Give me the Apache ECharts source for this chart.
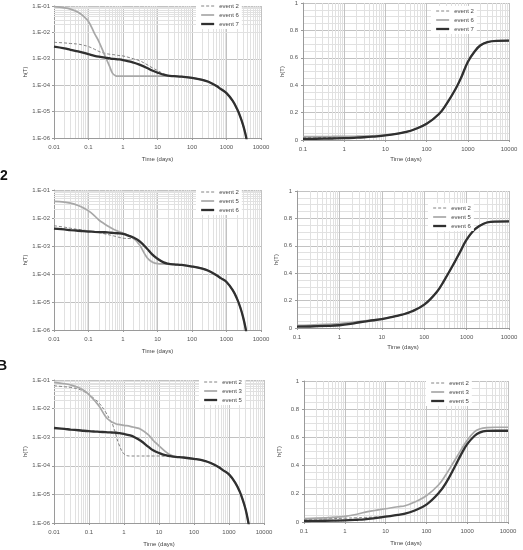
<!DOCTYPE html>
<html>
<head>
<meta charset="utf-8">
<script src="https://cdn.jsdelivr.net/npm/echarts@6/dist/echarts.min.js"></script>
<style>
  html, body { margin: 0; padding: 0; background: #fff; }
  #main { width: 523px; height: 550px; }
</style>
</head>
<body>
<div id="main"></div>
<script>
// time samples (days)
var timeLeft = [0.01, 0.02, 0.03, 0.05, 0.07, 0.1, 0.15, 0.2, 0.3, 0.4, 0.5, 0.6, 0.7, 1, 1.5, 2, 3, 5, 7, 10, 15, 20,
  30, 50, 100, 200, 300, 500, 700, 1000, 1500, 2000, 2500, 3000, 3500, 4000];
var timeRight = [0.1, 0.2, 0.5, 1, 2, 3, 5, 10, 20, 30, 50, 100, 200, 300, 500, 700, 1000, 1500, 2000, 3000, 5000, 10000];

// row 1, left: h(T) log scale
var tailA = [2.2e-4, 2.1e-4, 1.9e-4, 1.6e-4, 1.35e-4, 9.5e-5, 7e-5, 5e-5, 2.6e-5, 1.3e-5, 6.5e-6, 3.2e-6, 1.5e-6, 6.5e-7];
var a_ev2 = [4.2e-3, 4.0e-3, 3.8e-3, 3.6e-3, 3.3e-3, 2.9e-3, 2.3e-3, 1.9e-3, 1.6e-3, 1.5e-3, 1.45e-3, 1.4e-3, 1.35e-3,
  1.28e-3, 1.12e-3, 1.0e-3, 8.5e-4, 6e-4, 4.6e-4, 3.6e-4, 2.7e-4, 2.35e-4].concat(tailA);
var a_ev6 = [0.094, 0.085, 0.076, 0.058, 0.042, 0.026, 9e-3, 4.5e-3, 1.3e-3, 5.5e-4, 2.8e-4, 2.3e-4, 2.2e-4,
  2.2e-4, 2.2e-4, 2.2e-4, 2.2e-4, 2.2e-4, 2.2e-4, 2.2e-4, 2.2e-4, 2.2e-4].concat(tailA);
var a_ev7 = [2.9e-3, 2.5e-3, 2.2e-3, 1.9e-3, 1.7e-3, 1.5e-3, 1.3e-3, 1.2e-3, 1.1e-3, 1.05e-3, 1.0e-3, 9.8e-4, 9.6e-4,
  9e-4, 8e-4, 7.2e-4, 6e-4, 4.5e-4, 3.6e-4, 3.0e-4, 2.5e-4, 2.3e-4].concat(tailA);

// row 1, right: H(T)
var b_ev2 = [0.018, 0.018, 0.019, 0.02, 0.022, 0.024, 0.027, 0.033, 0.046, 0.057, 0.077, 0.118, 0.19, 0.26, 0.37, 0.46, 0.57, 0.65, 0.69, 0.715, 0.724, 0.725];
var b_ev6 = [0.025, 0.025, 0.026, 0.027, 0.028, 0.029, 0.031, 0.035, 0.047, 0.058, 0.078, 0.119, 0.19, 0.26, 0.37, 0.46, 0.57, 0.65, 0.69, 0.715, 0.724, 0.725];
var b_ev7 = [0.008, 0.009, 0.011, 0.013, 0.017, 0.02, 0.025, 0.033, 0.046, 0.057, 0.077, 0.118, 0.19, 0.26, 0.37, 0.46, 0.57, 0.65, 0.69, 0.715, 0.724, 0.725];

// row 2, left
var tailC = [2.2e-4, 2.1e-4, 1.85e-4, 1.55e-4, 1.3e-4, 9.2e-5, 7e-5, 5.2e-5, 2.7e-5, 1.35e-5, 6.5e-6, 3e-6, 1.3e-6, 5e-7];
var c_ev2 = [5.3e-3, 4.7e-3, 4.3e-3, 3.9e-3, 3.7e-3, 3.5e-3, 3.2e-3, 3.0e-3, 2.7e-3, 2.5e-3, 2.35e-3, 2.2e-3, 2.1e-3,
  1.9e-3, 1.85e-3, 1.8e-3, 1.4e-3, 7.8e-4, 4.9e-4, 3.5e-4, 2.6e-4, 2.35e-4].concat(tailC);
var c_ev5 = [0.039, 0.037, 0.034, 0.028, 0.023, 0.018, 0.012, 8.5e-3, 6e-3, 4.8e-3, 4.1e-3, 3.7e-3, 3.4e-3,
  2.9e-3, 2.3e-3, 1.9e-3, 1.1e-3, 3.8e-4, 2.7e-4, 2.35e-4, 2.3e-4, 2.25e-4].concat(tailC);
var c_ev6 = [4.2e-3, 3.9e-3, 3.7e-3, 3.5e-3, 3.4e-3, 3.3e-3, 3.2e-3, 3.15e-3, 3.1e-3, 3.0e-3, 2.95e-3, 2.9e-3, 2.85e-3,
  2.7e-3, 2.3e-3, 2.0e-3, 1.5e-3, 8e-4, 5e-4, 3.5e-4, 2.6e-4, 2.35e-4].concat(tailC);

// row 2, right
var d_ev2 = [0.013, 0.015, 0.02, 0.026, 0.036, 0.045, 0.054, 0.065, 0.085, 0.097, 0.12, 0.17, 0.265, 0.35, 0.47, 0.555, 0.645, 0.715, 0.745, 0.77, 0.777, 0.778];
var d_ev5 = [0.02, 0.022, 0.027, 0.033, 0.042, 0.048, 0.056, 0.066, 0.085, 0.097, 0.12, 0.17, 0.265, 0.35, 0.47, 0.555, 0.645, 0.715, 0.745, 0.77, 0.777, 0.778];
var d_ev6 = [0.01, 0.011, 0.015, 0.02, 0.032, 0.042, 0.052, 0.065, 0.085, 0.097, 0.12, 0.17, 0.265, 0.35, 0.47, 0.555, 0.645, 0.715, 0.745, 0.77, 0.777, 0.778];

// row 3, left
var tailE = [2.05e-4, 1.95e-4, 1.75e-4, 1.5e-4, 1.25e-4, 9e-5, 6.8e-5, 5e-5, 2.6e-5, 1.3e-5, 6.2e-6, 2.9e-6, 1.2e-6, 4.5e-7];
var e_ev2 = [0.063, 0.058, 0.055, 0.048, 0.04, 0.031, 0.021, 0.015, 7.5e-3, 4e-3, 2.3e-3, 1.1e-3, 6e-4,
  2.6e-4, 2.2e-4, 2.2e-4, 2.2e-4, 2.2e-4, 2.2e-4, 2.2e-4, 2.15e-4, 2.1e-4].concat(tailE);
var e_ev3 = [0.083, 0.074, 0.067, 0.055, 0.044, 0.031, 0.018, 0.0116, 5.2e-3, 3.7e-3, 3.2e-3, 2.9e-3, 2.8e-3,
  2.6e-3, 2.4e-3, 2.2e-3, 1.9e-3, 1.2e-3, 7.5e-4, 5e-4, 3.2e-4, 2.5e-4].concat(tailE);
var e_ev5 = [2.1e-3, 1.95e-3, 1.85e-3, 1.75e-3, 1.68e-3, 1.62e-3, 1.57e-3, 1.54e-3, 1.5e-3, 1.47e-3, 1.45e-3, 1.43e-3, 1.4e-3,
  1.3e-3, 1.15e-3, 1.0e-3, 7.5e-4, 4.6e-4, 3.4e-4, 2.8e-4, 2.35e-4, 2.2e-4].concat(tailE);

// row 3, right
var f_ev2 = [0.02, 0.021, 0.024, 0.027, 0.03, 0.032, 0.035, 0.04, 0.051, 0.06, 0.08, 0.124, 0.206, 0.277, 0.395, 0.477, 0.553, 0.611, 0.635, 0.647, 0.648, 0.648];
var f_ev3 = [0.024, 0.027, 0.033, 0.04, 0.055, 0.068, 0.08, 0.094, 0.108, 0.115, 0.14, 0.186, 0.264, 0.335, 0.44, 0.51, 0.58, 0.64, 0.66, 0.67, 0.672, 0.672];
var f_ev5 = [0.007, 0.008, 0.01, 0.012, 0.016, 0.019, 0.026, 0.038, 0.05, 0.059, 0.08, 0.123, 0.205, 0.276, 0.394, 0.476, 0.552, 0.61, 0.634, 0.646, 0.647, 0.647];

var FONT = 'Liberation Sans';
var styles = {
  dash: { color: '#767676', width: 0.9, type: [3, 2] },
  gray: { color: '#a8a8a8', width: 1.7, type: 'solid' },
  dark: { color: '#303030', width: 2.3, type: 'solid' }
};

// panel layout
var panels = [
  { grid: { left: 54, top: 6, width: 207, height: 132 }, log: true, xmin: 0.01, nameGap: 18, yGap: 17,
    legend: { left: 196, top: 1 },
    lines: [['event 2', a_ev2, 'dash'], ['event 6', a_ev6, 'gray'], ['event 7', a_ev7, 'dark']] },
  { grid: { left: 303, top: 2, width: 206, height: 138 }, log: false, xmin: 0.1, nameGap: 16, yGap: 16,
    legend: { left: 431, top: 6 },
    lines: [['event 2', b_ev2, 'dash'], ['event 6', b_ev6, 'gray'], ['event 7', b_ev7, 'dark']] },
  { grid: { left: 54, top: 190, width: 207, height: 140 }, log: true, xmin: 0.01, nameGap: 18, yGap: 17,
    legend: { left: 196, top: 187 },
    lines: [['event 2', c_ev2, 'dash'], ['event 5', c_ev5, 'gray'], ['event 6', c_ev6, 'dark']] },
  { grid: { left: 297, top: 191, width: 212, height: 137 }, log: false, xmin: 0.1, nameGap: 16, yGap: 10,
    legend: { left: 428, top: 203 },
    lines: [['event 2', d_ev2, 'dash'], ['event 5', d_ev5, 'gray'], ['event 6', d_ev6, 'dark']] },
  { grid: { left: 54, top: 380, width: 210, height: 143 }, log: true, xmin: 0.01, nameGap: 18, yGap: 17,
    legend: { left: 199, top: 377 },
    lines: [['event 2', e_ev2, 'dash'], ['event 3', e_ev3, 'gray'], ['event 5', e_ev5, 'dark']] },
  { grid: { left: 304, top: 381, width: 204, height: 141 }, log: false, xmin: 0.1, nameGap: 18, yGap: 22,
    legend: { left: 426, top: 378 },
    lines: [['event 2', f_ev2, 'dash'], ['event 3', f_ev3, 'gray'], ['event 5', f_ev5, 'dark']] }
];

function minorValues(lo, hi) {
  var out = [];
  for (var e = Math.round(Math.log10(lo)); e < Math.round(Math.log10(hi)); e++) {
    for (var m = 2; m <= 9; m++) out.push(m * Math.pow(10, e));
  }
  return out;
}

function zip(t, v) {
  return t.map(function (x, i) { return [x, v[i]]; });
}

var labelStyle = { fontSize: 6, color: '#555', fontFamily: FONT };
var grids = [], xAxes = [], yAxes = [], series = [], legends = [];

panels.forEach(function (p, i) {
  grids.push(p.grid);
  xAxes.push({
    gridIndex: i, type: 'log', logBase: 10, min: p.xmin, max: 10000,
    name: 'Time (days)', nameLocation: 'middle', nameGap: p.nameGap,
    nameTextStyle: { fontSize: 6, color: '#444', fontFamily: FONT },
    axisLine: { lineStyle: { color: '#9a9a9a', width: 1 } },
    axisTick: { show: true, length: 2, lineStyle: { color: '#9a9a9a' } },
    axisLabel: Object.assign({ margin: 6, formatter: function (v) {
      return v >= 1 ? String(Math.round(v)) : String(parseFloat(v.toPrecision(1)));
    } }, labelStyle),
    splitLine: { show: true, lineStyle: { color: '#c2c2c2', width: 1 } }
  });
  if (p.log) {
    yAxes.push({
      gridIndex: i, type: 'log', logBase: 10, min: 1e-6, max: 0.1,
      name: 'h(T)', nameLocation: 'middle', nameGap: p.yGap,
      nameTextStyle: { fontSize: 6, color: '#444', fontFamily: FONT },
      axisLine: { show: true, lineStyle: { color: '#9a9a9a', width: 1 } },
      axisTick: { show: true, length: 2, lineStyle: { color: '#9a9a9a' } },
      axisLabel: Object.assign({ margin: 4, formatter: function (v) {
        var e = Math.round(Math.log10(v));
        var a = Math.abs(e);
        return '1.E' + (e < 0 ? '-' : '+') + (a < 10 ? '0' : '') + a;
      } }, labelStyle),
      splitLine: { show: true, lineStyle: { color: '#c2c2c2', width: 1 } }
    });
  } else {
    yAxes.push({
      gridIndex: i, type: 'value', min: 0, max: 1, interval: 0.2,
      name: 'h(T)', nameLocation: 'middle', nameGap: p.yGap,
      nameTextStyle: { fontSize: 6, color: '#444', fontFamily: FONT },
      axisLine: { show: true, lineStyle: { color: '#9a9a9a', width: 1 } },
      axisTick: { show: true, length: 2, lineStyle: { color: '#9a9a9a' } },
      axisLabel: Object.assign({ margin: 5, formatter: function (v) {
        return String(Math.round(v * 10) / 10);
      } }, labelStyle),
      splitLine: { show: true, lineStyle: { color: '#c2c2c2', width: 1 } },
      minorTick: { show: false, splitNumber: 4 },
      minorSplitLine: { show: true, lineStyle: { color: '#e1e1e1', width: 1 } }
    });
  }

  // minor grid lines (2..9 in each decade), kept under the curves and legend
  var ml = minorValues(p.xmin, 10000).map(function (v) { return { xAxis: v }; });
  if (p.log) {
    ml = ml.concat(minorValues(1e-6, 0.1).map(function (v) { return { yAxis: v }; }));
  }
  series.push({
    type: 'line', xAxisIndex: i, yAxisIndex: i, data: [], silent: true, z: 1,
    markLine: {
      z: 1, silent: true, symbol: ['none', 'none'], label: { show: false }, animation: false,
      emphasis: { disabled: true },
      lineStyle: { color: '#e1e1e1', width: 1, type: 'solid' },
      data: ml
    }
  });

  var times = p.log ? timeLeft : timeRight;
  p.lines.forEach(function (ln, k) {
    var st = styles[ln[2]];
    series.push({
      type: 'line', name: ln[0], xAxisIndex: i, yAxisIndex: i,
      data: zip(times, ln[1]), symbol: 'none', showSymbol: false,
      smooth: 0.4, clip: true, animation: false, z: 3 + k,
      lineStyle: { color: st.color, width: st.width, type: st.type },
      itemStyle: { color: st.color }
    });
  });

  legends.push({
    orient: 'vertical', left: p.legend.left, top: p.legend.top, z: 10,
    itemWidth: 13, itemHeight: 7, itemGap: 3, padding: [2, 3, 2, 4],
    backgroundColor: '#fff', selectedMode: false, inactiveColor: '#444',
    textStyle: { fontSize: 6, color: '#444', fontFamily: FONT },
    data: p.lines.map(function (ln) {
      var st = styles[ln[2]];
      return {
        name: ln[0],
        itemStyle: { opacity: 0 },
        lineStyle: { color: st.color, width: st.width, type: st.type }
      };
    })
  });
});

var chart = echarts.init(document.getElementById('main'), null, { renderer: 'canvas' });
chart.setOption({
  backgroundColor: '#fff',
  animation: false,
  grid: grids,
  xAxis: xAxes,
  yAxis: yAxes,
  legend: legends,
  series: series,
  graphic: [
    { type: 'text', left: 0, top: 169, style: { text: '2', font: 'bold 14px ' + FONT, fill: '#111' } },
    { type: 'text', left: -3, top: 359, style: { text: 'B', font: 'bold 14px ' + FONT, fill: '#111' } }
  ]
});
</script>
</body>
</html>
